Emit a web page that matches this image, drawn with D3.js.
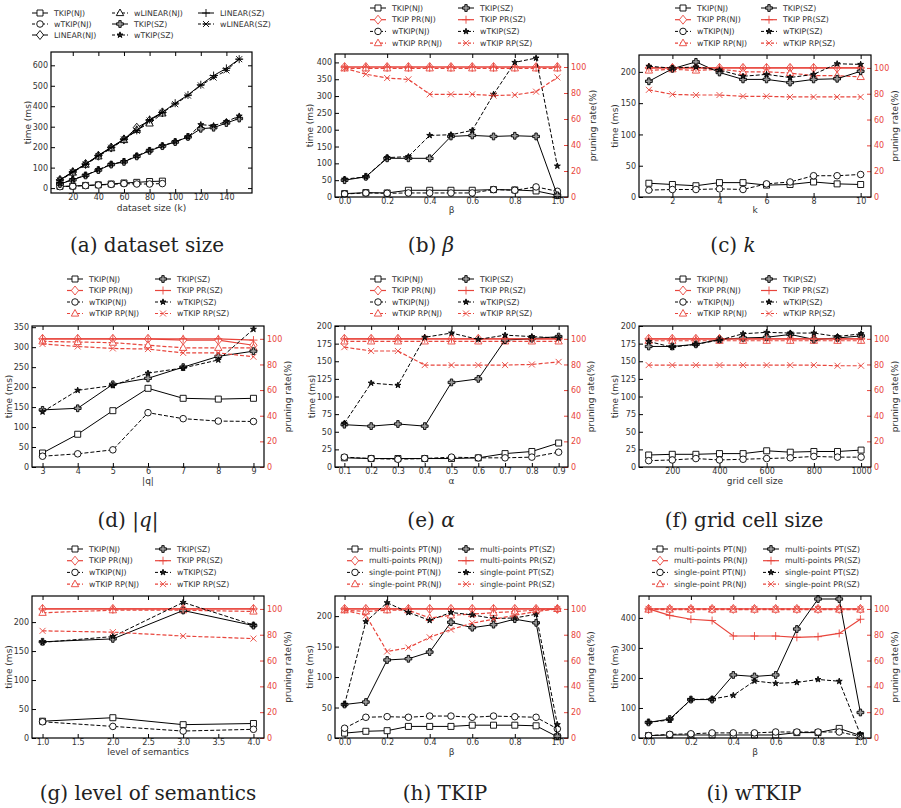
<!DOCTYPE html>
<html>
<head>
<meta charset="utf-8">
<script src="https://cdnjs.cloudflare.com/ajax/libs/d3/7.8.5/d3.min.js"></script>
<style>
body { margin: 0; background: #fff; }
text { font-family: "DejaVu Sans", sans-serif; }
</style>
</head>
<body>
<div id="vis"></div>
<script>
// ---- data ----
var sizeNJ = [10, 20, 30, 40, 50, 60, 70, 80, 90];
var sizeSZ = [10, 20, 30, 40, 50, 60, 70, 80, 90, 100, 110, 120, 130, 140, 150];
var aTkipNJ = [8, 10, 13, 16, 20, 25, 28, 32, 34];
var aWtkipNJ = [7, 9, 12, 15, 18, 22, 20, 20, 22];
var aLinearNJ = [40, 78, 118, 158, 198, 238, 295, 330, 370];
var aWlinearNJ = [38, 76, 115, 155, 195, 235, 285, 316, 365];
var aTkipSZ = [20, 40, 62, 88, 115, 128, 155, 182, 205, 225, 250, 290, 295, 318, 340];
var aWtkipSZ = [22, 42, 63, 90, 117, 130, 157, 185, 207, 227, 250, 310, 305, 325, 352];
var aLinearSZ = [40, 80, 117, 160, 200, 240, 282, 335, 370, 415, 455, 505, 550, 585, 630];
var aWlinearSZ = [38, 78, 115, 157, 197, 238, 280, 330, 368, 410, 452, 502, 540, 575, 630];

var betaX = [0, 0.1, 0.2, 0.3, 0.4, 0.5, 0.6, 0.7, 0.8, 0.9, 1.0];
var bTkipNJ = [10, 13, 12, 20, 20, 20, 20, 22, 21, 18, 5];
var bWtkipNJ = [9, 12, 11, 12, 12, 12, 12, 22, 20, 30, 17];
var bTkipSZ = [50, 60, 115, 115, 115, 180, 183, 180, 182, 180, 5];
var bWtkipSZ = [53, 60, 117, 120, 183, 185, 198, 305, 400, 413, 92];
var bPrNJ = [100, 100, 100, 100, 100, 100, 100, 100, 100, 100, 100];
var bPrSZ = [100, 100, 100, 100, 100, 100, 100, 100, 100, 100, 100];
var bRpNJ = [99, 99, 99, 99, 99, 99, 99, 99, 99, 99, 99];
var bRpSZ = [99, 94.5, 91.5, 90.5, 79, 79, 79, 78, 78.5, 81, 92];

var kX = [1, 2, 3, 4, 5, 6, 7, 8, 9, 10];
var cTkipNJ = [22, 20, 18, 23, 23, 19, 20, 24, 21, 20];
var cWtkipNJ = [11, 12, 12, 13, 12, 21, 24, 34, 34, 36];
var cTkipSZ = [185, 205, 216, 199, 188, 188, 183, 188, 189, 201];
var cWtkipSZ = [209, 206, 208, 203, 193, 196, 191, 196, 213, 212];
var cPrNJ = [100, 100, 100, 100, 100, 100, 100, 100, 100, 100];
var cPrSZ = [100, 100, 100, 100, 100, 100, 100, 100, 100, 100];
var cRpNJ = [98, 99, 98, 99, 97, 97, 96, 94, 94, 93];
var cRpSZ = [83, 79.5, 79, 79, 78, 78, 77.5, 77.5, 77.5, 77.5];

var qX = [3, 4, 5, 6, 7, 8, 9];
var dTkipNJ = [35, 82, 141, 197, 172, 170, 172];
var dWtkipNJ = [27, 33, 43, 136, 121, 115, 114];
var dTkipSZ = [143, 147, 207, 222, 250, 277, 290];
var dWtkipSZ = [138, 192, 204, 235, 248, 268, 345];
var dPrNJ = [100, 100, 100, 100, 99, 99, 95];
var dPrSZ = [100, 100, 100, 100, 100, 100, 99];
var dRpNJ = [98, 97.5, 97, 95, 93, 93, 93];
var dRpSZ = [96, 94, 92.5, 92, 89, 89, 86];

var alphaX = [0.1, 0.2, 0.3, 0.4, 0.5, 0.6, 0.7, 0.8, 0.9];
var eTkipNJ = [13, 12, 12, 12, 12, 13, 19, 22, 34];
var eWtkipNJ = [14, 12, 11, 12, 14, 13, 13, 14, 21];
var eTkipSZ = [60, 58, 61, 58, 120, 125, 180, 182, 185];
var eWtkipSZ = [62, 119, 116, 184, 190, 181, 187, 185, 183];
var ePrNJ = [100, 100, 100, 100, 100, 100, 100, 100, 100];
var ePrSZ = [100, 100, 100, 100, 100, 100, 100, 100, 100];
var eRpNJ = [98, 98, 98, 98, 98, 98, 98, 98, 98];
var eRpSZ = [93.5, 90.5, 90.5, 79.5, 79.5, 79.5, 79.5, 80, 82];

var gridX = [100, 200, 300, 400, 500, 600, 700, 800, 900, 1000];
var fTkipNJ = [17, 18, 18, 19, 19, 23, 21, 22, 22, 24];
var fWtkipNJ = [9, 10, 12, 10, 11, 12, 13, 15, 14, 14];
var fTkipSZ = [171, 171, 174, 181, 183, 184, 188, 181, 183, 186];
var fWtkipSZ = [178, 170, 174, 180, 189, 191, 190, 190, 185, 189];
var fPrNJ = [100, 100, 100, 100, 100, 100, 100, 100, 100, 100];
var fPrSZ = [100, 100, 100, 100, 100, 100, 100, 100, 100, 100];
var fRpNJ = [98.5, 98.5, 98.5, 98.5, 98.5, 98.5, 98.5, 98.5, 98.5, 98.5];
var fRpSZ = [79.5, 79.5, 79.5, 79.5, 79.5, 79.5, 79.5, 79.5, 79, 79];

var levelX = [1, 2, 3, 4];
var gTkipNJ = [29, 35, 23, 25];
var gWtkipNJ = [28, 20, 12, 15];
var gTkipSZ = [166, 171, 220, 194];
var gWtkipSZ = [165, 175, 234, 195];
var gPrNJ = [100, 100, 100, 100];
var gPrSZ = [100, 100, 100, 100];
var gRpNJ = [97, 99, 99, 98];
var gRpSZ = [83, 82, 79, 77];

var hMultiNJ = [8, 11, 12, 19, 19, 19, 21, 21, 21, 20, 2];
var hSingleNJ = [16, 34, 35, 34, 36, 36, 34, 36, 35, 34, 15];
var hMultiSZ = [55, 59, 128, 130, 141, 190, 181, 186, 195, 189, 3];
var hSingleSZ = [55, 191, 222, 206, 193, 206, 202, 196, 197, 203, 22];
var hMultiPrNJ = [100, 100, 100, 100, 100, 100, 100, 100, 100, 100, 100];
var hMultiPrSZ = [100, 100, 100, 100, 100, 100, 100, 100, 100, 100, 100];
var hSinglePrNJ = [99, 98, 99, 99, 93, 95, 96, 97, 98, 99, 100];
var hSinglePrSZ = [99, 95, 67, 70, 78, 84, 89, 92, 95, 98, 100];

var iMultiNJ = [8, 10, 10, 10, 10, 10, 10, 18, 18, 32, 8];
var iSingleNJ = [8, 12, 14, 17, 17, 17, 20, 20, 20, 20, 5];
var iMultiSZ = [52, 63, 128, 128, 210, 205, 210, 363, 463, 463, 85];
var iSingleSZ = [52, 60, 128, 130, 142, 190, 182, 185, 195, 189, 12];
var iMultiPrNJ = [100, 100, 100, 100, 100, 100, 100, 100, 100, 100, 100];
var iMultiPrSZ = [100, 95, 92, 91, 79, 79, 79, 78, 78.5, 81, 92];
var iSinglePrNJ = [99.5, 99.5, 99.5, 99.5, 99.5, 99.5, 99.5, 99.5, 99.5, 99.5, 99.5];
var iSinglePrSZ = [100, 100, 100, 100, 100, 100, 100, 100, 100, 100, 100];

var prTicks = [0, 20, 40, 60, 80, 100];

// ---- look ----
var RED = "#e8453c", INK = "#333";

var styles = {
  sq:    {color: "#000", dash: null,  marker: "square"},
  ci:    {color: "#000", dash: "4,2", marker: "circle"},
  di:    {color: RED,    dash: null,  marker: "diamond"},
  tr:    {color: RED,    dash: "4,2", marker: "triangle"},
  pf:    {color: "#000", dash: null,  marker: "pfill"},
  st:    {color: "#000", dash: "4,2", marker: "star"},
  pl:    {color: RED,    dash: null,  marker: "plus"},
  xx:    {color: RED,    dash: "4,2", marker: "x"},
  kdi:   {color: "#000", dash: null,  marker: "diamond"},
  ktr:   {color: "#000", dash: "4,2", marker: "triangle"},
  kpl:   {color: "#000", dash: null,  marker: "plus"},
  kxx:   {color: "#000", dash: "4,2", marker: "asterx"}
};

function markerPath(type) {
  switch (type) {
    case "square": return "M-3,-3H3V3H-3Z";
    case "circle": return d3.symbol(d3.symbolCircle, 34)();
    case "diamond": return "M0,-4.5L3.6,0L0,4.5L-3.6,0Z";
    case "triangle": return "M0,-4L3.7,2.6L-3.7,2.6Z";
    case "pfill": return "M-1.2,-3.4H1.2V-1.2H3.4V1.2H1.2V3.4H-1.2V1.2H-3.4V-1.2H-1.2Z";
    case "star": return d3.symbol(d3.symbolStar, 11)();
    case "plus": return "M-4,0H4M0,-4V4";
    case "x": return "M-3,-3L3,3M-3,3L3,-3";
    case "asterx": return "M-3,-3L3,3M-3,3L3,-3M-3.5,0H3.5";
  }
}
function markerFill(type) {
  if (type == "pfill") return "#9a9a9a";
  if (type == "star") return "#222";
  if (type == "plus" || type == "x" || type == "asterx") return "none";
  return "#fff";
}

var svg = d3.select("#vis").append("svg")
    .attr("width", 901)
    .attr("height", 808);
svg.append("rect").attr("width", 901).attr("height", 808).attr("fill", "#fff");

function styleAxis(sel, color) {
  sel.select(".domain").remove();
  sel.selectAll("line").attr("stroke", color).attr("stroke-width", 1);
  sel.selectAll("text").attr("fill", color == "#000" ? INK : color)
    .style("font-size", "8px").style("font-family", "DejaVu Sans");
}

function drawPanel(p) {
  var g = svg.append("g");
  var b = p.box;
  var x = d3.scaleLinear().domain(p.xDomain).range([b[0], b[2]]);
  var yl = d3.scaleLinear().domain(p.yDomain).range([b[3], b[1]]);
  var yr = d3.scaleLinear().domain([0, 110]).range([b[3], b[1]]);

  g.append("g").attr("transform", "translate(0," + b[3] + ")")
    .call(d3.axisBottom(x).tickValues(p.xTicks).tickFormat(p.xFormat)
      .tickSizeInner(-4).tickSizeOuter(0).tickPadding(1.5))
    .call(styleAxis, "#000");
  g.append("g").attr("transform", "translate(0," + b[1] + ")")
    .call(d3.axisTop(x).tickValues(p.xTicks).tickFormat("")
      .tickSizeInner(-4).tickSizeOuter(0))
    .call(styleAxis, "#000");
  g.append("g").attr("transform", "translate(" + b[0] + ",0)")
    .call(d3.axisLeft(yl).tickValues(p.yTicks).tickFormat(d3.format("d"))
      .tickSizeInner(-4).tickSizeOuter(0).tickPadding(3))
    .call(styleAxis, "#000");
  if (p.twin) {
    g.append("g").attr("transform", "translate(" + b[2] + ",0)")
      .call(d3.axisRight(yr).tickValues(prTicks).tickFormat(d3.format("d"))
        .tickSizeInner(-4).tickSizeOuter(0).tickPadding(3))
      .call(styleAxis, RED);
  } else {
    g.append("g").attr("transform", "translate(" + b[2] + ",0)")
      .call(d3.axisRight(yl).tickValues(p.yTicks).tickFormat("")
        .tickSizeInner(-4).tickSizeOuter(0))
      .call(styleAxis, "#000");
  }

  // series
  p.series.forEach(function(s) {
    var st = styles[s.style];
    var ys = s.side == "r" ? yr : yl;
    var line = d3.line()
      .x(function(d, i) { return x(s.x[i]); })
      .y(function(d) { return ys(d); });
    g.append("path").datum(s.y)
      .attr("d", line)
      .attr("fill", "none")
      .attr("stroke", st.color)
      .attr("stroke-width", st.color == RED ? 1.2 : 1)
      .attr("stroke-dasharray", st.dash);
    g.selectAll(null).data(s.y).enter().append("path")
      .attr("transform", function(d, i) { return "translate(" + x(s.x[i]) + "," + ys(d) + ")"; })
      .attr("d", markerPath(st.marker))
      .attr("fill", markerFill(st.marker))
      .attr("stroke", st.color)
      .attr("stroke-width", 0.9);
  });

  g.append("rect")
    .attr("x", b[0]).attr("y", b[1])
    .attr("width", b[2] - b[0]).attr("height", b[3] - b[1])
    .attr("fill", "none").attr("stroke", "#000").attr("stroke-width", 1.2);

  // legend
  var lg = p.legend;
  p.series.forEach(function(s, i) {
    var st = styles[s.style];
    var col = Math.floor(i / lg.rows), row = i % lg.rows;
    var lx = lg.cols[col], ly = lg.y + row * lg.dy;
    g.append("line")
      .attr("x1", lx).attr("x2", lx + 16).attr("y1", ly).attr("y2", ly)
      .attr("stroke", st.color).attr("stroke-width", st.color == RED ? 1.2 : 1)
      .attr("stroke-dasharray", st.dash ? "3,2" : null);
    g.append("path")
      .attr("transform", "translate(" + (lx + 8) + "," + ly + ")")
      .attr("d", markerPath(st.marker))
      .attr("fill", markerFill(st.marker))
      .attr("stroke", st.color).attr("stroke-width", 0.9);
    g.append("text")
      .attr("x", lx + 22).attr("y", ly).attr("dy", "0.35em")
      .attr("fill", INK).style("font-size", "7.8px")
      .text(s.name);
  });

  // axis labels
  var midY = (b[1] + b[3]) / 2;
  g.append("text")
    .attr("transform", "translate(" + p.timeX + "," + midY + ") rotate(-90)")
    .attr("text-anchor", "middle").attr("dy", "0.35em")
    .attr("fill", INK).style("font-size", "9px")
    .text("time (ms)");
  if (p.twin) {
    g.append("text")
      .attr("transform", "translate(" + p.prX + "," + midY + ") rotate(-90)")
      .attr("text-anchor", "middle").attr("dy", "0.35em")
      .attr("fill", INK).style("font-size", "9px")
      .text("pruning rate(%)");
  }
  g.append("text")
    .attr("x", (b[0] + b[2]) / 2).attr("y", p.xLabelY).attr("dy", "0.35em")
    .attr("text-anchor", "middle").attr("fill", INK).style("font-size", "9px")
    .text(p.xLabel);

  // caption
  var cap = g.append("text")
    .attr("x", p.capX).attr("y", p.capY).attr("dy", "0.35em")
    .attr("text-anchor", "middle").attr("fill", "#222")
    .style("font-family", "DejaVu Serif").style("font-size", "20px");
  cap.append("tspan").text(p.cap[0]);
  if (p.cap[1]) cap.append("tspan").style("font-style", "italic").text(p.cap[1]);
  if (p.cap[2]) cap.append("tspan").text(p.cap[2]);
}

var f1 = d3.format(".1f"), fd = d3.format("d");
var ntk = ["TKIP(NJ)", "TKIP PR(NJ)", "wTKIP(NJ)", "wTKIP RP(NJ)", "TKIP(SZ)", "TKIP PR(SZ)", "wTKIP(SZ)", "wTKIP RP(SZ)"];
var nmp = ["multi-points PT(NJ)", "multi-points PR(NJ)", "single-point PT(NJ)", "single-point PR(NJ)",
           "multi-points PT(SZ)", "multi-points PR(SZ)", "single-point PT(SZ)", "single-point PR(SZ)"];
var order = ["sq", "di", "ci", "tr", "pf", "pl", "st", "xx"];
var sides = ["l", "r", "l", "r", "l", "r", "l", "r"];

function eight(names, xs, arrs) {
  return arrs.map(function(a, i) {
    return {name: names[i], x: xs, y: a, side: sides[i], style: order[i]};
  });
}

// (a)
drawPanel({
  box: [51, 52, 252, 193], xDomain: [3, 160], yDomain: [-24, 665],
  xTicks: [20, 40, 60, 80, 100, 120, 140], xFormat: fd,
  yTicks: [0, 100, 200, 300, 400, 500, 600], twin: false,
  series: [
    {name: "TKIP(NJ)", x: sizeNJ, y: aTkipNJ, side: "l", style: "sq"},
    {name: "wTKIP(NJ)", x: sizeNJ, y: aWtkipNJ, side: "l", style: "ci"},
    {name: "LINEAR(NJ)", x: sizeNJ, y: aLinearNJ, side: "l", style: "kdi"},
    {name: "wLINEAR(NJ)", x: sizeNJ, y: aWlinearNJ, side: "l", style: "ktr"},
    {name: "TKIP(SZ)", x: sizeSZ, y: aTkipSZ, side: "l", style: "pf"},
    {name: "wTKIP(SZ)", x: sizeSZ, y: aWtkipSZ, side: "l", style: "st"},
    {name: "LINEAR(SZ)", x: sizeSZ, y: aLinearSZ, side: "l", style: "kpl"},
    {name: "wLINEAR(SZ)", x: sizeSZ, y: aWlinearSZ, side: "l", style: "kxx"}
  ],
  legend: {cols: [32, 112, 198], rows: 3, y: 13, dy: 11},
  timeX: 28, xLabel: "dataset size (k)", xLabelY: 208,
  cap: ["(a) dataset size"], capX: 147, capY: 245
});
// (b)
drawPanel({
  box: [335, 54, 568, 197], xDomain: [-0.045, 1.05], yDomain: [0, 425],
  xTicks: [0, 0.2, 0.4, 0.6, 0.8, 1.0], xFormat: f1,
  yTicks: [0, 50, 100, 150, 200, 250, 300, 350, 400], twin: true,
  series: eight(ntk, betaX, [bTkipNJ, bPrNJ, bWtkipNJ, bRpNJ, bTkipSZ, bPrSZ, bWtkipSZ, bRpSZ]),
  legend: {cols: [370, 458], rows: 4, y: 8, dy: 11.7},
  timeX: 310, prX: 593, xLabel: "β", xLabelY: 210,
  cap: ["(b) ", "β"], capX: 431, capY: 245
});
// (c)
drawPanel({
  box: [639, 55, 871, 197], xDomain: [0.58, 10.44], yDomain: [0, 227],
  xTicks: [2, 4, 6, 8, 10], xFormat: fd,
  yTicks: [0, 50, 100, 150, 200], twin: true,
  series: eight(ntk, kX, [cTkipNJ, cPrNJ, cWtkipNJ, cRpNJ, cTkipSZ, cPrSZ, cWtkipSZ, cRpSZ]),
  legend: {cols: [675, 761], rows: 4, y: 8, dy: 11.7},
  timeX: 615, prX: 895, xLabel: "k", xLabelY: 210,
  cap: ["(c) ", "k"], capX: 733, capY: 245
});
// (d)
drawPanel({
  box: [32, 326, 264, 467], xDomain: [2.7, 9.3], yDomain: [0, 353],
  xTicks: qX, xFormat: fd,
  yTicks: [0, 50, 100, 150, 200, 250, 300, 350], twin: true,
  series: eight(ntk, qX, [dTkipNJ, dPrNJ, dWtkipNJ, dRpNJ, dTkipSZ, dPrSZ, dWtkipSZ, dRpSZ]),
  legend: {cols: [67, 155], rows: 4, y: 279, dy: 11.5},
  timeX: 9, prX: 288, xLabel: "|q|", xLabelY: 481,
  cap: ["(d) |", "q", "|"], capX: 128, capY: 520
});
// (e)
drawPanel({
  box: [335, 326, 568, 467], xDomain: [0.065, 0.935], yDomain: [0, 200],
  xTicks: alphaX, xFormat: f1,
  yTicks: [0, 25, 50, 75, 100, 125, 150, 175, 200], twin: true,
  series: eight(ntk, alphaX, [eTkipNJ, ePrNJ, eWtkipNJ, eRpNJ, eTkipSZ, ePrSZ, eWtkipSZ, eRpSZ]),
  legend: {cols: [370, 458], rows: 4, y: 279, dy: 11.5},
  timeX: 312, prX: 591, xLabel: "α", xLabelY: 481,
  cap: ["(e) ", "α"], capX: 431, capY: 520
});
// (f)
drawPanel({
  box: [639, 326, 871, 467], xDomain: [59, 1042], yDomain: [0, 200],
  xTicks: [200, 400, 600, 800, 1000], xFormat: fd,
  yTicks: [0, 25, 50, 75, 100, 125, 150, 175, 200], twin: true,
  series: eight(ntk, gridX, [fTkipNJ, fPrNJ, fWtkipNJ, fRpNJ, fTkipSZ, fPrSZ, fWtkipSZ, fRpSZ]),
  legend: {cols: [675, 761], rows: 4, y: 279, dy: 11.5},
  timeX: 615, prX: 895, xLabel: "grid cell size", xLabelY: 481,
  cap: ["(f) grid cell size"], capX: 744, capY: 520
});
// (g)
drawPanel({
  box: [32, 596, 264, 738], xDomain: [0.85, 4.15], yDomain: [0, 245],
  xTicks: [1, 1.5, 2, 2.5, 3, 3.5, 4], xFormat: f1,
  yTicks: [0, 50, 100, 150, 200], twin: true,
  series: eight(ntk, levelX, [gTkipNJ, gPrNJ, gWtkipNJ, gRpNJ, gTkipSZ, gPrSZ, gWtkipSZ, gRpSZ]),
  legend: {cols: [67, 155], rows: 4, y: 549, dy: 11.7},
  timeX: 9, prX: 288, xLabel: "level of semantics", xLabelY: 752,
  cap: ["(g) level of semantics"], capX: 148, capY: 793
});
// (h)
drawPanel({
  box: [335, 596, 568, 738], xDomain: [-0.045, 1.05], yDomain: [0, 233],
  xTicks: [0, 0.2, 0.4, 0.6, 0.8, 1.0], xFormat: f1,
  yTicks: [0, 50, 100, 150, 200], twin: true,
  series: eight(nmp, betaX, [hMultiNJ, hMultiPrNJ, hSingleNJ, hSinglePrNJ, hMultiSZ, hMultiPrSZ, hSingleSZ, hSinglePrSZ]),
  legend: {cols: [347, 458], rows: 4, y: 549, dy: 11.7},
  timeX: 310, prX: 591, xLabel: "β", xLabelY: 752,
  cap: ["(h) TKIP"], capX: 445, capY: 793
});
// (i)
drawPanel({
  box: [639, 596, 871, 738], xDomain: [-0.045, 1.05], yDomain: [0, 473],
  xTicks: [0, 0.2, 0.4, 0.6, 0.8, 1.0], xFormat: f1,
  yTicks: [0, 100, 200, 300, 400], twin: true,
  series: eight(nmp, betaX, [iMultiNJ, iMultiPrNJ, iSingleNJ, iSinglePrNJ, iMultiSZ, iMultiPrSZ, iSingleSZ, iSinglePrSZ]),
  legend: {cols: [652, 763], rows: 4, y: 549, dy: 11.7},
  timeX: 615, prX: 895, xLabel: "β", xLabelY: 752,
  cap: ["(i) wTKIP"], capX: 754, capY: 793
});
</script>
</body>
</html>
